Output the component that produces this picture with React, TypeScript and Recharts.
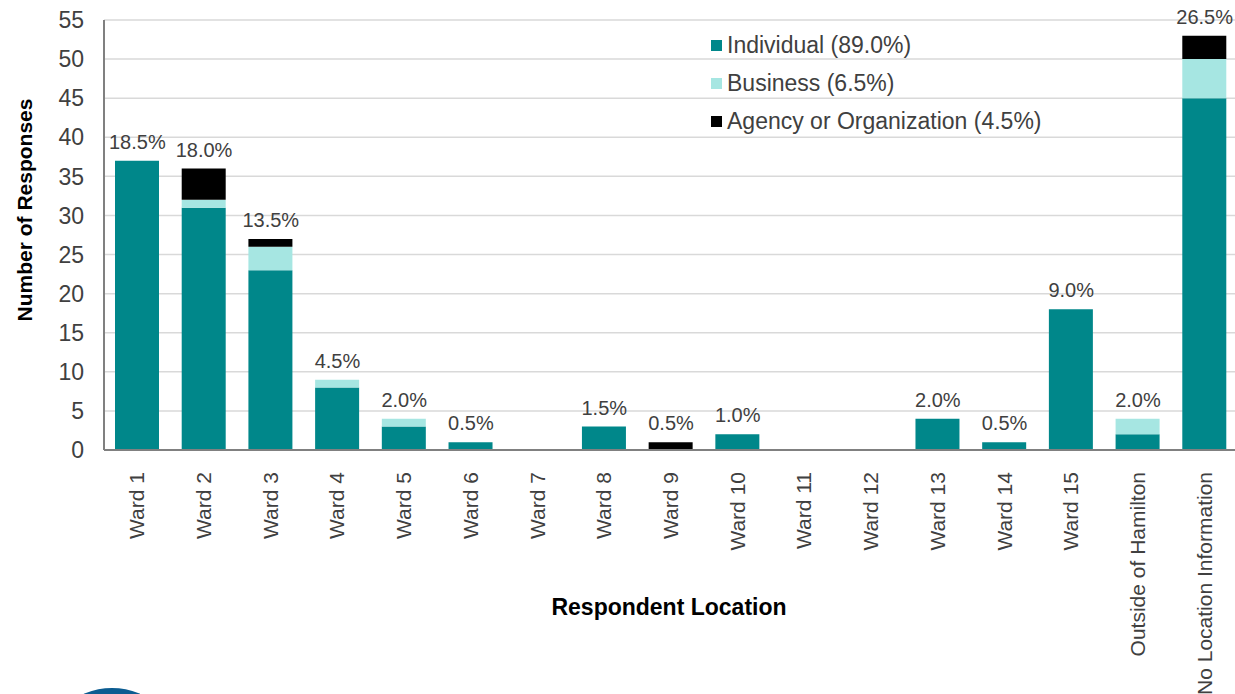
import React from "react";
import {
  ComposedChart,
  Bar,
  Line,
  XAxis,
  YAxis,
  CartesianGrid,
  LabelList,
} from "recharts";

const categories = [
  "Ward 1", "Ward 2", "Ward 3", "Ward 4", "Ward 5", "Ward 6", "Ward 7", "Ward 8",
  "Ward 9", "Ward 10", "Ward 11", "Ward 12", "Ward 13", "Ward 14", "Ward 15",
  "Outside of Hamilton", "No Location Information",
];
const individual = [37, 31, 23, 8, 3, 1, 0, 3, 0, 2, 0, 0, 4, 1, 18, 2, 45];
const business = [0, 1, 3, 1, 1, 0, 0, 0, 0, 0, 0, 0, 0, 0, 0, 2, 5];
const agency = [0, 4, 1, 0, 0, 0, 0, 0, 1, 0, 0, 0, 0, 0, 0, 0, 3];
const pctLabels = [
  "18.5%", "18.0%", "13.5%", "4.5%", "2.0%", "0.5%", "", "1.5%", "0.5%", "1.0%",
  "", "", "2.0%", "0.5%", "9.0%", "2.0%", "26.5%",
];
const yTicks = [0, 5, 10, 15, 20, 25, 30, 35, 40, 45, 50, 55];

const series = [
  { key: "individual", name: "Individual (89.0%)", color: "#00878A" },
  { key: "business", name: "Business (6.5%)", color: "#A6E6E2" },
  { key: "agency", name: "Agency or Organization (4.5%)", color: "#000000" },
];

const data = categories.map((c, i) => ({
  category: c,
  individual: individual[i],
  business: business[i],
  agency: agency[i],
  total: individual[i] + business[i] + agency[i],
}));

const FONT = '"Liberation Sans", Arial, sans-serif';
const TEXT = "#404040";

function XTick(props: any) {
  const { x, y, payload } = props;
  return (
    <text
      x={x}
      y={y}
      transform={`rotate(-90, ${x}, ${y})`}
      dx={-14}
      dy={7}
      textAnchor="end"
      fontSize={21}
      fontFamily={FONT}
      fill={TEXT}
    >
      {payload.value}
    </text>
  );
}

function TopLabel(props: any) {
  const { x, y, index } = props;
  const text = pctLabels[index];
  if (!text) return null;
  return (
    <text
      x={x}
      y={y - 12}
      textAnchor="middle"
      fontSize={20}
      fontFamily={FONT}
      fill={TEXT}
    >
      {text}
    </text>
  );
}

function LegendBox() {
  return (
    <div
      style={{
        position: "absolute",
        left: 711,
        top: 26,
        fontFamily: FONT,
        color: TEXT,
        fontSize: 23,
      }}
    >
      {series.map((s) => (
        <div
          key={s.key}
          style={{ display: "flex", alignItems: "center", height: 38, whiteSpace: "nowrap" }}
        >
          <span
            style={{ width: 11, height: 11, background: s.color, marginRight: 5, display: "inline-block" }}
          />
          {s.name}
        </div>
      ))}
    </div>
  );
}

export default function App() {
  return (
    <div style={{ position: "absolute", left: 0, top: 0, width: 1235, height: 694, overflow: "hidden", background: "#fff" }}>
      <ComposedChart
        width={1238}
        height={694}
        data={data}
        margin={{ top: 20, right: 0, left: 0, bottom: 0 }}
        barSize={44}
      >
        <CartesianGrid vertical={false} stroke="#d9d9d9" strokeWidth={1.5} />
        <XAxis
          dataKey="category"
          height={244}
          interval={0}
          tick={<XTick />}
          tickLine={false}
          axisLine={{ stroke: "#808080", strokeWidth: 2 }}
          label={(p: any) => {
            const vb = p.viewBox;
            return (
              <text
                x={vb.x + vb.width / 2 - 2}
                y={vb.y + 165}
                textAnchor="middle"
                fontSize={23}
                fontWeight="bold"
                fontFamily={FONT}
                fill="#000"
              >
                Respondent Location
              </text>
            );
          }}
        />
        <YAxis
          width={104}
          domain={[0, 55]}
          ticks={yTicks}
          interval={0}
          tickSize={0}
          tickMargin={20}
          tickLine={false}
          axisLine={{ stroke: "#808080", strokeWidth: 2 }}
          tick={{ fontSize: 23, fontFamily: FONT, fill: TEXT }}
          label={(p: any) => {
            const vb = p.viewBox;
            const cy = vb.y + vb.height / 2 - 25;
            return (
              <text
                x={32}
                y={cy}
                transform={`rotate(-90, 32, ${cy})`}
                textAnchor="middle"
                fontSize={21}
                fontWeight="bold"
                fontFamily={FONT}
                fill="#000"
              >
                Number of Responses
              </text>
            );
          }}
        />
        {series.map((s) => (
          <Bar
            key={s.key}
            dataKey={s.key}
            name={s.name}
            stackId="a"
            fill={s.color}
            isAnimationActive={false}
          />
        ))}
        <Line
          dataKey="total"
          stroke="none"
          dot={false}
          activeDot={false}
          legendType="none"
          isAnimationActive={false}
        >
          <LabelList content={<TopLabel />} />
        </Line>
      </ComposedChart>
      <LegendBox />
      <div
        style={{
          position: "absolute",
          left: 42,
          top: 688,
          width: 140,
          height: 140,
          borderRadius: "50%",
          background: "#0B5C91",
        }}
      />
    </div>
  );
}
